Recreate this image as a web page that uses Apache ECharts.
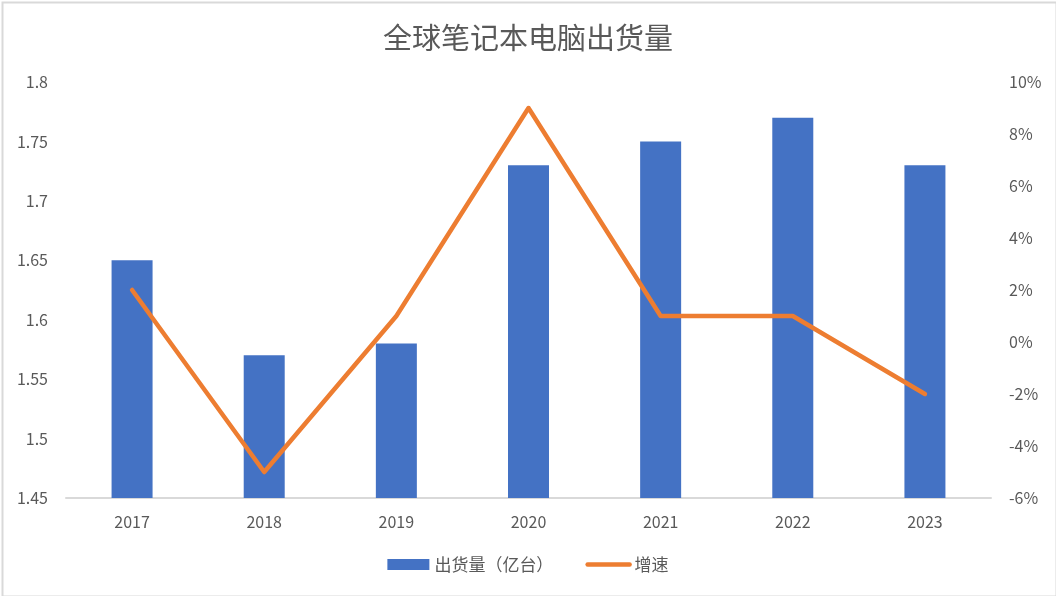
<!DOCTYPE html>
<html>
<head>
<meta charset="utf-8">
<script src="https://cdn.jsdelivr.net/npm/echarts@6/dist/echarts.min.js"></script>
<style>
html, body { margin: 0; padding: 0; background: #fff; }
#main { width: 1056px; height: 596px; }
</style>
</head>
<body>
<div id="main"></div>
<script>
// 数据
var years = ['2017', '2018', '2019', '2020', '2021', '2022', '2023'];
var shipments = [1.65, 1.57, 1.58, 1.73, 1.75, 1.77, 1.73];   // 出货量（亿台）
var growth = [2, -5, 1, 9, 1, 1, -2];                        // 增速 %

var textColor = '#595959';
var fontFamily = '"Noto Sans CJK SC", "Liberation Sans", sans-serif';

var myChart = echarts.init(document.getElementById('main'));

var option = {
    backgroundColor: '#fff',
    textStyle: { fontFamily: fontFamily },
    graphic: [
        {
            type: 'rect',
            left: 0, top: 0,
            shape: { x: 1, y: 1, width: 1054, height: 594 },
            style: { fill: 'none', stroke: '#d9d9d9', lineWidth: 2 },
            silent: true
        }
    ],
    title: {
        text: '全球笔记本电脑出货量',
        left: 'center',
        top: 18,
        textStyle: {
            color: textColor,
            fontSize: 29,
            fontWeight: 'normal',
            fontFamily: fontFamily
        }
    },
    legend: {
        bottom: 18,
        left: 'center',
        itemWidth: 42,
        itemHeight: 11,
        itemGap: 32,
        textStyle: { color: textColor, fontSize: 17, fontFamily: fontFamily },
        data: [
            { name: '出货量（亿台）', icon: 'rect' },
            { name: '增速', itemStyle: { opacity: 0 }, lineStyle: { width: 4.5, cap: 'round' } }
        ]
    },
    grid: {
        left: 66,
        right: 65,
        top: 82,
        bottom: 98
    },
    xAxis: {
        type: 'category',
        data: years,
        axisLine: { onZero: false, lineStyle: { color: '#d9d9d9', width: 2 } },
        axisTick: { show: false },
        axisLabel: { color: textColor, fontSize: 16, margin: 16 }
    },
    yAxis: [
        {
            type: 'value',
            min: 1.45,
            max: 1.8,
            interval: 0.05,
            splitLine: { show: false },
            axisLine: { show: false },
            axisTick: { show: false },
            axisLabel: {
                color: textColor,
                fontSize: 16,
                margin: 18,
                formatter: function (v) { return String(Math.round(v * 100) / 100); }
            }
        },
        {
            type: 'value',
            min: -6,
            max: 10,
            interval: 2,
            splitLine: { show: false },
            axisLine: { show: false },
            axisTick: { show: false },
            axisLabel: {
                color: textColor,
                fontSize: 16,
                margin: 18,
                formatter: '{value}%'
            }
        }
    ],
    series: [
        {
            name: '出货量（亿台）',
            type: 'bar',
            barWidth: 41,
            itemStyle: { color: '#4472c4' },
            data: shipments
        },
        {
            name: '增速',
            type: 'line',
            yAxisIndex: 1,
            symbol: 'none',
            lineStyle: { color: '#ed7d31', width: 4.5, cap: 'round', join: 'round' },
            itemStyle: { color: '#ed7d31' },
            data: growth
        }
    ]
};

myChart.setOption(option);
</script>
</body>
</html>
